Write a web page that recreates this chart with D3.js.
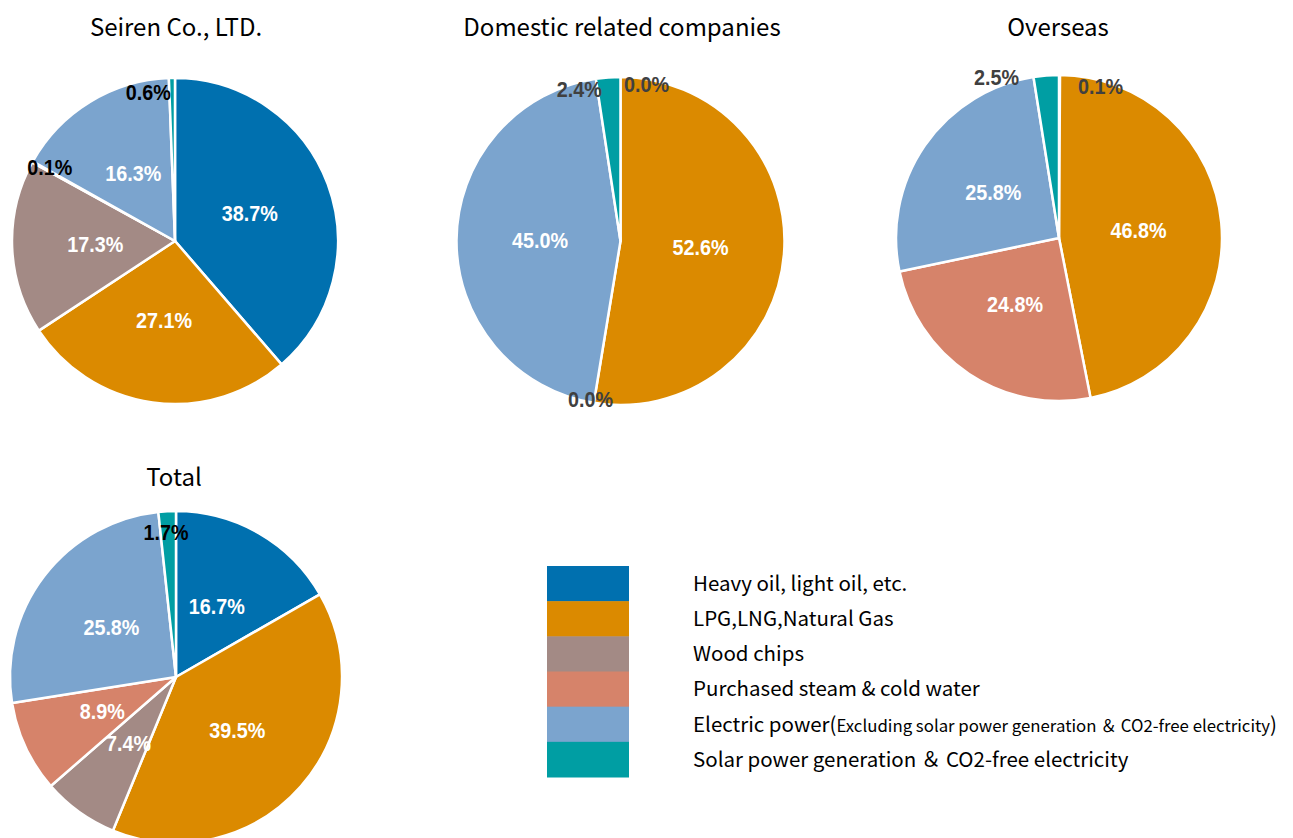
<!DOCTYPE html>
<html>
<head>
<meta charset="utf-8">
<script src="https://cdn.jsdelivr.net/npm/d3@7"></script>
<style>
  html, body { margin: 0; padding: 0; background: #fff; }
  svg { display: block; }
</style>
</head>
<body>
<svg id="chart" width="1293" height="838"></svg>
<script>
// ---------- DATA ----------
const categories = [
  "Heavy oil, light oil, etc.",
  "LPG,LNG,Natural Gas",
  "Wood chips",
  "Purchased steam & cold water",
  "Electric power",
  "Solar power generation ＆ CO2-free electricity"
];
const legendNote = "Excluding solar power generation ＆ CO2-free electricity";
const chartTitles = ["Seiren Co., LTD.", "Domestic related companies", "Overseas", "Total"];
const seirenValues   = [38.7, 27.1, 17.3, 0.1, 16.3, 0.6];
const domesticValues = [0.0, 52.6, null, 0.0, 45.0, 2.4];
const overseasValues = [0.1, 46.8, null, 24.8, 25.8, 2.5];
const totalValues    = [16.7, 39.5, 7.4, 8.9, 25.8, 1.7];

// ---------- STYLE / LAYOUT ----------
const colors = ["#0070AF", "#DB8A00", "#A38A85", "#D6836A", "#7BA4CE", "#009EA3"];
const layouts = [
  {cx: 175,   cy: 241, r: 163, tx: 176, ty: 27,  outColor: "#000000",
   nudge: {3: [3, -3], 5: [-24, -2]}},
  {cx: 620.5, cy: 241, r: 164, tx: 622, ty: 27,  outColor: "#404040",
   nudge: {0: [26, -9], 3: [-6, 13], 5: [-30, -5]}},
  {cx: 1059,  cy: 238, r: 163, tx: 1058, ty: 27, outColor: "#404040",
   nudge: {0: [41, -5], 5: [-51, -14]}},
  {cx: 176,   cy: 677, r: 166, tx: 174, ty: 477, outColor: "#000000",
   nudge: {5: [-2, 4]}}
];
const seriesList = [seirenValues, domesticValues, overseasValues, totalValues];

const svg = d3.select("#chart");
const pie = d3.pie().sort(null).value(d => d.v == null ? 0 : d.v);
const color = d3.scaleOrdinal().domain(d3.range(categories.length)).range(colors);

seriesList.forEach((vals, ci) => {
  const L = layouts[ci];
  const data = vals.map((v, i) => ({v, i}));
  const arcs = pie(data);
  const arc = d3.arc().innerRadius(0).outerRadius(L.r);
  const inArc = d3.arc().innerRadius(L.r * 0.49).outerRadius(L.r * 0.49);
  const outArc = d3.arc().innerRadius(L.r * 0.9).outerRadius(L.r * 0.9);

  const g = svg.append("g").attr("transform", `translate(${L.cx},${L.cy})`);
  g.selectAll("path").data(arcs.filter(a => a.data.v)).join("path")
    .attr("d", arc)
    .attr("fill", d => color(d.data.i))
    .attr("stroke", "#fff")
    .attr("stroke-width", 2.5)
    .attr("stroke-linejoin", "round");

  g.selectAll("text.lbl").data(arcs.filter(a => a.data.v != null)).join("text")
    .attr("class", "lbl")
    .attr("transform", d => {
      const small = d.data.v < 3;
      let [x, y] = (small ? outArc : inArc).centroid(d);
      const n = L.nudge[d.data.i];
      if (n) { x += n[0]; y += n[1]; }
      return `translate(${x},${y}) scale(0.92,1)`;
    })
    .attr("text-anchor", "middle")
    .attr("dy", "0.36em")
    .attr("font-family", "'Liberation Sans', Arial, sans-serif")
    .attr("font-weight", "bold")
    .attr("font-size", 21.5)
    .attr("fill", d => d.data.v < 3 ? L.outColor : "#ffffff")
    .text(d => d3.format(".1f")(d.data.v) + "%");

  svg.append("text")
    .attr("x", L.tx).attr("y", L.ty)
    .attr("text-anchor", "middle")
    .attr("dy", "0.36em")
    .attr("font-family", "'Noto Sans CJK JP', 'Noto Sans', sans-serif")
    .attr("font-size", 24)
    .attr("fill", "#000")
    .text(chartTitles[ci]);
});

// ---------- LEGEND ----------
const legY = d3.scaleBand().domain(d3.range(categories.length)).range([566, 777]).padding(0);
const leg = svg.append("g");
leg.selectAll("rect").data(categories).join("rect")
  .attr("x", 547).attr("y", (d, i) => legY(i))
  .attr("width", 82).attr("height", legY.bandwidth() + 0.5)
  .attr("fill", (d, i) => colors[i]);

const lt = leg.selectAll("text").data(categories).join("text")
  .attr("x", 693)
  .attr("y", (d, i) => legY(i) + legY.bandwidth() / 2)
  .attr("dy", "0.36em")
  .attr("font-family", "'Noto Sans CJK JP', 'Noto Sans', sans-serif")
  .attr("font-size", 20.5)
  .attr("fill", "#000");
lt.each(function(d, i) {
  const t = d3.select(this);
  t.append("tspan").text(d);
  if (i === 4) {
    t.append("tspan").text("(");
    t.append("tspan").attr("font-size", 16.8).text(legendNote);
    t.append("tspan").text(")");
  }
});
</script>
</body>
</html>
